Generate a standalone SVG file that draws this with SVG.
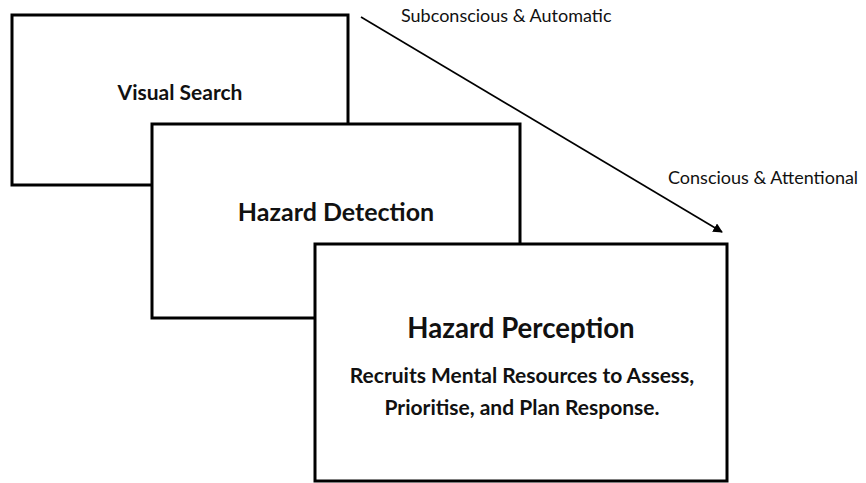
<svg xmlns="http://www.w3.org/2000/svg" width="866" height="483" viewBox="0 0 866 483">
  <style>
    .box { fill: #ffffff; stroke: #000000; stroke-width: 3; }
    .lbl { font-family: Lato, "Open Sans", "Liberation Sans", sans-serif; fill: #111111; text-anchor: middle; }
    .b { font-weight: bold; }
    .note { font-family: Lato, "Open Sans", "Liberation Sans", sans-serif; fill: #111111; font-size: 18px; }
    .conn { stroke: #000000; stroke-width: 1.6; fill: none; }
  </style>
  <defs>
    <marker id="arrow" viewBox="0 0 10 10" refX="9" refY="5" markerWidth="6" markerHeight="6" orient="auto" markerUnits="strokeWidth">
      <path d="M0,0 L10,5 L0,10 z" fill="#000000"/>
    </marker>
  </defs>
  <rect width="866" height="483" fill="#ffffff"/>

  <g id="visual-search">
    <rect class="box" x="12" y="15" width="336" height="170"/>
    <text class="lbl b" x="180" y="100" font-size="21">Visual Search</text>
  </g>

  <g id="hazard-detection">
    <rect class="box" x="152" y="124" width="368" height="194"/>
    <text class="lbl b" x="336" y="221" font-size="25">Hazard Detection</text>
  </g>

  <g id="hazard-perception">
    <rect class="box" x="315" y="244" width="412" height="237"/>
    <text class="lbl b" x="521" y="338" font-size="27.6">Hazard Perception</text>
    <text class="lbl b" x="522" y="383" font-size="21">Recruits Mental Resources to Assess,</text>
    <text class="lbl b" x="522" y="415" font-size="21">Prioritise, and Plan Response.</text>
  </g>

  <g id="connectors">
    <line class="conn" x1="361" y1="17" x2="722" y2="232" marker-end="url(#arrow)"/>
    <text class="note" x="401" y="22">Subconscious &amp; Automatic</text>
    <text class="note" x="668" y="184">Conscious &amp; Attentional</text>
  </g>
</svg>
